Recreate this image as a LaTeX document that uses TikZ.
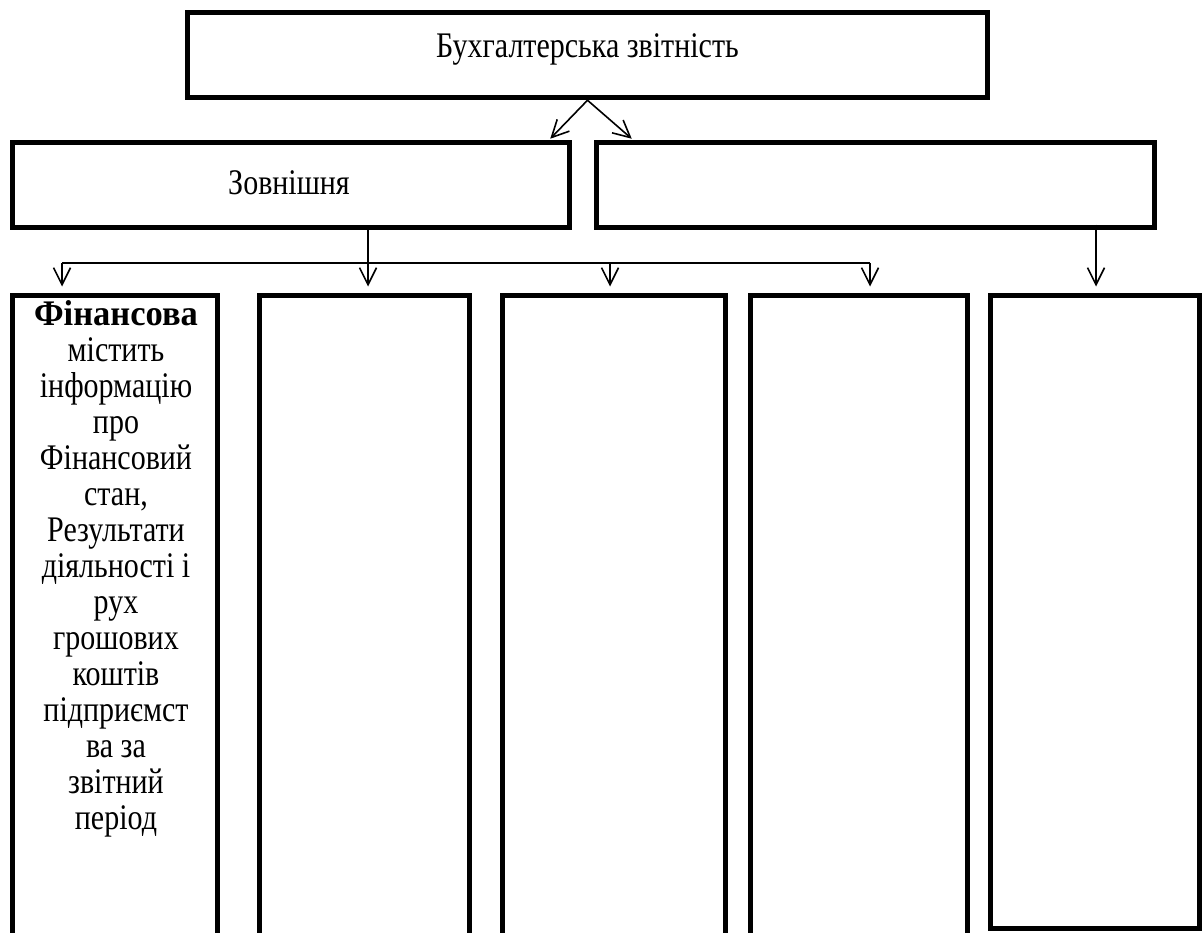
\documentclass[tikz,border=0pt]{standalone}
\usepackage{fontspec}
\setmainfont{Liberation Serif}
\usetikzlibrary{arrows.meta}
\newcommand\talltext[1]{\scalebox{1}[1.2]{#1}}
\begin{document}
\begin{tikzpicture}[x=1pt,y=-1pt,
  box/.style={draw=black, line width=5.5pt, rectangle, inner sep=0pt, anchor=center},
  txt/.style={font=\fontsize{30}{30}\selectfont},
  conn/.style={draw=black, line width=1.6pt},
  arr/.style={conn, -{Straight Barb[length=17pt,width=17pt,line width=1.6pt]}},
]
\useasboundingbox (0,0) rectangle (1204,933);
\clip (0,0) rectangle (1204,933);
\fill[white] (0,0) rectangle (1204,933);

% top level
\node[box, minimum width=800pt, minimum height=85pt,
      label={[txt, yshift=6pt]center:\talltext{Бухгалтерська звітність}}] (top) at (587.5,55) {};

% second level
\node[box, txt, minimum width=557pt, minimum height=85pt] (ext) at (291,185) {};
\node[txt, inner sep=0pt] (extlabel) at (289,183) {\talltext{Зовнішня}};
\node[box, minimum width=558pt, minimum height=85pt] (int) at (875.5,185) {};

% third level
\node[box, minimum width=205pt, minimum height=700pt, anchor=north] (b1) at (115,292.5) {};
\node[box, minimum width=210pt, minimum height=700pt, anchor=north] (b2) at (364.5,292.5) {};
\node[box, minimum width=223pt, minimum height=700pt, anchor=north] (b3) at (614,292.5) {};
\node[box, minimum width=217pt, minimum height=700pt, anchor=north] (b4) at (859,292.5) {};
\node[box, minimum width=209pt, minimum height=633pt, anchor=north] (b5) at (1095,292.5) {};

\node[txt, inner sep=0pt, anchor=north] (ftext) at (116,300)
  {\talltext{\begin{tabular}{@{}c@{}}
   \scalebox{1.15}[1]{\textbf{Фінансова}}\\ містить\\ інформацію\\ про\\ Фінансовий\\ стан,\\
   Результати\\ діяльності і\\ рух\\ грошових\\ коштів\\ підприємст\\ ва за\\
   звітний\\ період\end{tabular}}};

% connectors top -> second level
\draw[arr] (top.south) -- ([xshift=-22pt,yshift=1pt]ext.north east);
\draw[arr] (top.south) -- ([xshift=38pt,yshift=1pt]int.north west);

% bus from Зовнішня
\coordinate (j1) at (62,263);
\coordinate (j2) at (368,263);
\coordinate (j3) at (610,263);
\coordinate (j4) at (870,263);
\draw[conn] ([xshift=77pt]ext.south) -- (j2);
\draw[conn, line width=1.2pt] (j1) -- (j4);
\draw[arr, shorten >=6pt] (j1) -- (j1 |- b1.north);
\draw[arr, shorten >=6pt] (j2) -- (j2 |- b2.north);
\draw[arr, shorten >=6pt] (j3) -- (j3 |- b3.north);
\draw[arr, shorten >=6pt] (j4) -- (j4 |- b4.north);

% right branch
\coordinate (r1) at ([xshift=220.5pt,yshift=5.5pt]int.south);
\draw[arr, shorten >=6pt] (r1) -- (r1 |- b5.north);
\end{tikzpicture}
\end{document}
